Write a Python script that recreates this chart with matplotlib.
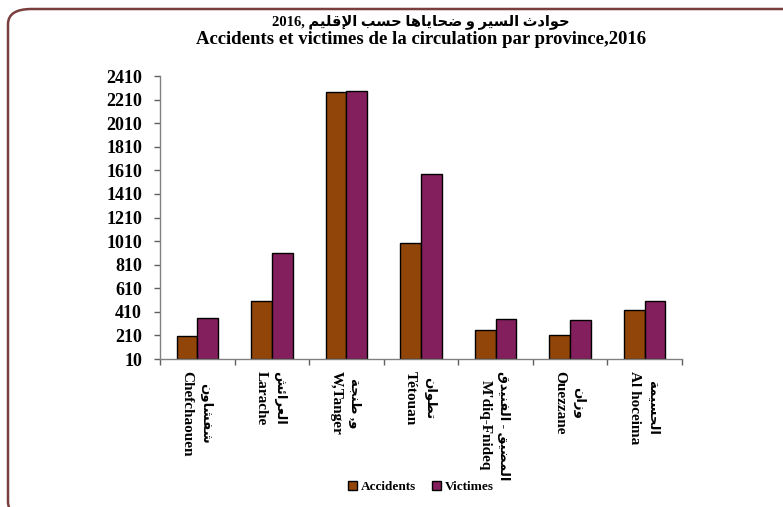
import matplotlib
matplotlib.use('Agg')
import matplotlib.pyplot as plt
from matplotlib.patches import FancyBboxPatch, Patch
import numpy as np

# ---------------- data ----------------
title_ar = "حوادث السير و ضحاياها حسب الإقليم ,2016"
title_fr = "Accidents et victimes de la circulation par province,2016"
categories_ar = ["شفشاون", "العرائش", "و, طنجة", "تطوان", "المضيق - الفنيدق", "وزان", "الحسيمة"]
categories_fr = ["Chefchaouen", "Larache", "W,Tanger", "Tétouan", "M'diq-Fnideq", "Ouezzane", "Al hoceima"]
accidents = [203, 502, 2277, 996, 253, 211, 428]
victimes = [360, 909, 2283, 1581, 349, 343, 504]
series_names = ["Accidents", "Victimes"]
yticks = [10, 210, 410, 610, 810, 1010, 1210, 1410, 1610, 1810, 2010, 2210, 2410]

# ---------------- minimal Arabic shaping + RTL ordering (matplotlib has neither) ----------------
FORMS = {  # isolated, final, initial, medial
    'ا': (0xFE8D, 0xFE8E, None, None), 'أ': (0xFE83, 0xFE84, None, None),
    'إ': (0xFE87, 0xFE88, None, None), 'آ': (0xFE81, 0xFE82, None, None),
    'ب': (0xFE8F, 0xFE90, 0xFE91, 0xFE92), 'ة': (0xFE93, 0xFE94, None, None),
    'ت': (0xFE95, 0xFE96, 0xFE97, 0xFE98), 'ث': (0xFE99, 0xFE9A, 0xFE9B, 0xFE9C),
    'ج': (0xFE9D, 0xFE9E, 0xFE9F, 0xFEA0), 'ح': (0xFEA1, 0xFEA2, 0xFEA3, 0xFEA4),
    'خ': (0xFEA5, 0xFEA6, 0xFEA7, 0xFEA8), 'د': (0xFEA9, 0xFEAA, None, None),
    'ذ': (0xFEAB, 0xFEAC, None, None), 'ر': (0xFEAD, 0xFEAE, None, None),
    'ز': (0xFEAF, 0xFEB0, None, None), 'س': (0xFEB1, 0xFEB2, 0xFEB3, 0xFEB4),
    'ش': (0xFEB5, 0xFEB6, 0xFEB7, 0xFEB8), 'ص': (0xFEB9, 0xFEBA, 0xFEBB, 0xFEBC),
    'ض': (0xFEBD, 0xFEBE, 0xFEBF, 0xFEC0), 'ط': (0xFEC1, 0xFEC2, 0xFEC3, 0xFEC4),
    'ظ': (0xFEC5, 0xFEC6, 0xFEC7, 0xFEC8), 'ع': (0xFEC9, 0xFECA, 0xFECB, 0xFECC),
    'غ': (0xFECD, 0xFECE, 0xFECF, 0xFED0), 'ف': (0xFED1, 0xFED2, 0xFED3, 0xFED4),
    'ق': (0xFED5, 0xFED6, 0xFED7, 0xFED8), 'ك': (0xFED9, 0xFEDA, 0xFEDB, 0xFEDC),
    'ل': (0xFEDD, 0xFEDE, 0xFEDF, 0xFEE0), 'م': (0xFEE1, 0xFEE2, 0xFEE3, 0xFEE4),
    'ن': (0xFEE5, 0xFEE6, 0xFEE7, 0xFEE8), 'ه': (0xFEE9, 0xFEEA, 0xFEEB, 0xFEEC),
    'و': (0xFEED, 0xFEEE, None, None), 'ى': (0xFEEF, 0xFEF0, None, None),
    'ي': (0xFEF1, 0xFEF2, 0xFEF3, 0xFEF4), 'ئ': (0xFE89, 0xFE8A, 0xFE8B, 0xFE8C),
}
LAMALEF = {'ا': (0xFEFB, 0xFEFC), 'أ': (0xFEF7, 0xFEF8), 'إ': (0xFEF9, 0xFEFA), 'آ': (0xFEF5, 0xFEF6)}


def dual(c):
    return c in FORMS and FORMS[c][2] is not None


def shape_word(w):
    out = []
    i = 0
    n = len(w)
    while i < n:
        c = w[i]
        prev = w[i - 1] if i > 0 else ''
        joins_prev = dual(prev) and c in FORMS
        if c == 'ل' and i + 1 < n and w[i + 1] in LAMALEF:
            iso, fin = LAMALEF[w[i + 1]]
            out.append(chr(fin if joins_prev else iso))
            i += 2
            continue
        if c not in FORMS:
            out.append(c)
            i += 1
            continue
        nxt = w[i + 1] if i + 1 < n else ''
        joins_next = dual(c) and nxt in FORMS
        iso, fin, ini, med = FORMS[c]
        if joins_prev and joins_next:
            g = med
        elif joins_prev:
            g = fin
        elif joins_next:
            g = ini
        else:
            g = iso
        out.append(chr(g))
        i += 1
    return ''.join(reversed(out))


def is_arabic(t):
    return any('\u0600' <= ch <= '\u06FF' for ch in t)


def visual(s):
    toks = []
    for t in s.split(' '):
        if is_arabic(t):
            toks.append(shape_word(t))
        else:
            lead = ''
            while t and t[0] in ',.;:':
                lead += t[0]
                t = t[1:]
            toks.append(t + lead)
    return ' '.join(toks[::-1])


# ---------------- figure ----------------
FAM = ['Liberation Serif', 'DejaVu Sans']
plt.rcParams['font.family'] = FAM
plt.rcParams['font.weight'] = 'bold'

W, H = 783, 507
fig = plt.figure(figsize=(W / 100, H / 100), dpi=100)

# rounded outer frame (extends beyond right/bottom edges)
frame = FancyBboxPatch((8 / W, -10 / H), 1.2, (H - 9 + 10) / H,
                       boxstyle="round,pad=0,rounding_size=0.03",
                       transform=fig.transFigure, fill=False,
                       edgecolor='#7A3E3E', linewidth=1.8, zorder=0)
fig.patches.append(frame)

left, right = 160 / W, 682 / W
bottom, top = (H - 359) / H, (H - 76) / H
ax = fig.add_axes([left, bottom, right - left, top - bottom])

c_acc = '#924508'
c_vic = '#821F5C'
x = np.arange(len(categories_fr))
bw = 0.277
ax.bar(x - bw / 2, [a - 10 for a in accidents], bw, bottom=10, color=c_acc,
       edgecolor='black', linewidth=1.0, label=series_names[0])
ax.bar(x + bw / 2, [v - 10 for v in victimes], bw, bottom=10, color=c_vic,
       edgecolor='black', linewidth=1.0, label=series_names[1])

ax.set_ylim(yticks[0], yticks[-1])
ax.set_xlim(-0.5, len(x) - 0.5)
ax.set_yticks(yticks)
ax.set_yticklabels([str(t) for t in yticks], fontsize=13, fontweight='bold')
ax.set_xticks(np.arange(len(x) + 1) - 0.5)
ax.set_xticklabels([])
for s in ['top', 'right']:
    ax.spines[s].set_visible(False)
for s in ['left', 'bottom']:
    ax.spines[s].set_color('#808080')
    ax.spines[s].set_linewidth(1.0)
ax.tick_params(axis='both', direction='out', length=4, color='#606060', width=1.0)
ax.tick_params(axis='y', pad=9)

# category labels (rotated, two lines: Arabic on the right, French on the left)
y_top = -12 / 283
fr_texts, ar_texts = [], []
for i in range(len(x)):
    tf = ax.text(i - 0.14, y_top, categories_fr[i], transform=ax.get_xaxis_transform(),
                 rotation=270, ha='center', va='top', fontsize=11, fontweight='bold',
                 family=FAM)
    ta = ax.text(i + 0.11, y_top, visual(categories_ar[i]), transform=ax.get_xaxis_transform(),
                 rotation=270, ha='center', va='top', fontsize=9.5, fontweight='bold',
                 family=FAM)
    fr_texts.append(tf)
    ar_texts.append(ta)

fig.canvas.draw()
r = fig.canvas.get_renderer()
ax_h = ax.get_window_extent(r).height
for tf, ta in zip(fr_texts, ar_texts):
    hf = tf.get_window_extent(r).height
    ha_ = ta.get_window_extent(r).height
    m = max(hf, ha_)
    tf.set_y(y_top - (m - hf) / 2 / ax_h)
    ta.set_y(y_top - (m - ha_) / 2 / ax_h)

# title (two lines)
cx = (left + right) / 2
fig.text(cx, 1 - 22 / H, visual(title_ar), ha='center', va='center',
         fontsize=10.5, fontweight='bold', family=FAM)
fig.text(cx, 1 - 40 / H, title_fr, ha='center', va='center',
         fontsize=13.5, fontweight='bold', family=FAM)

# legend
handles = [Patch(facecolor=c_acc, edgecolor='black', linewidth=1.0),
           Patch(facecolor=c_vic, edgecolor='black', linewidth=1.0)]
fig.legend(handles, series_names, loc='center', bbox_to_anchor=(421 / W, 1 - 487 / H),
           ncol=2, frameon=False, prop={'family': FAM, 'weight': 'bold', 'size': 9.5},
           handlelength=0.7, handleheight=0.7, handletextpad=0.3, columnspacing=1.2)

fig.savefig('out.png', dpi=100)
